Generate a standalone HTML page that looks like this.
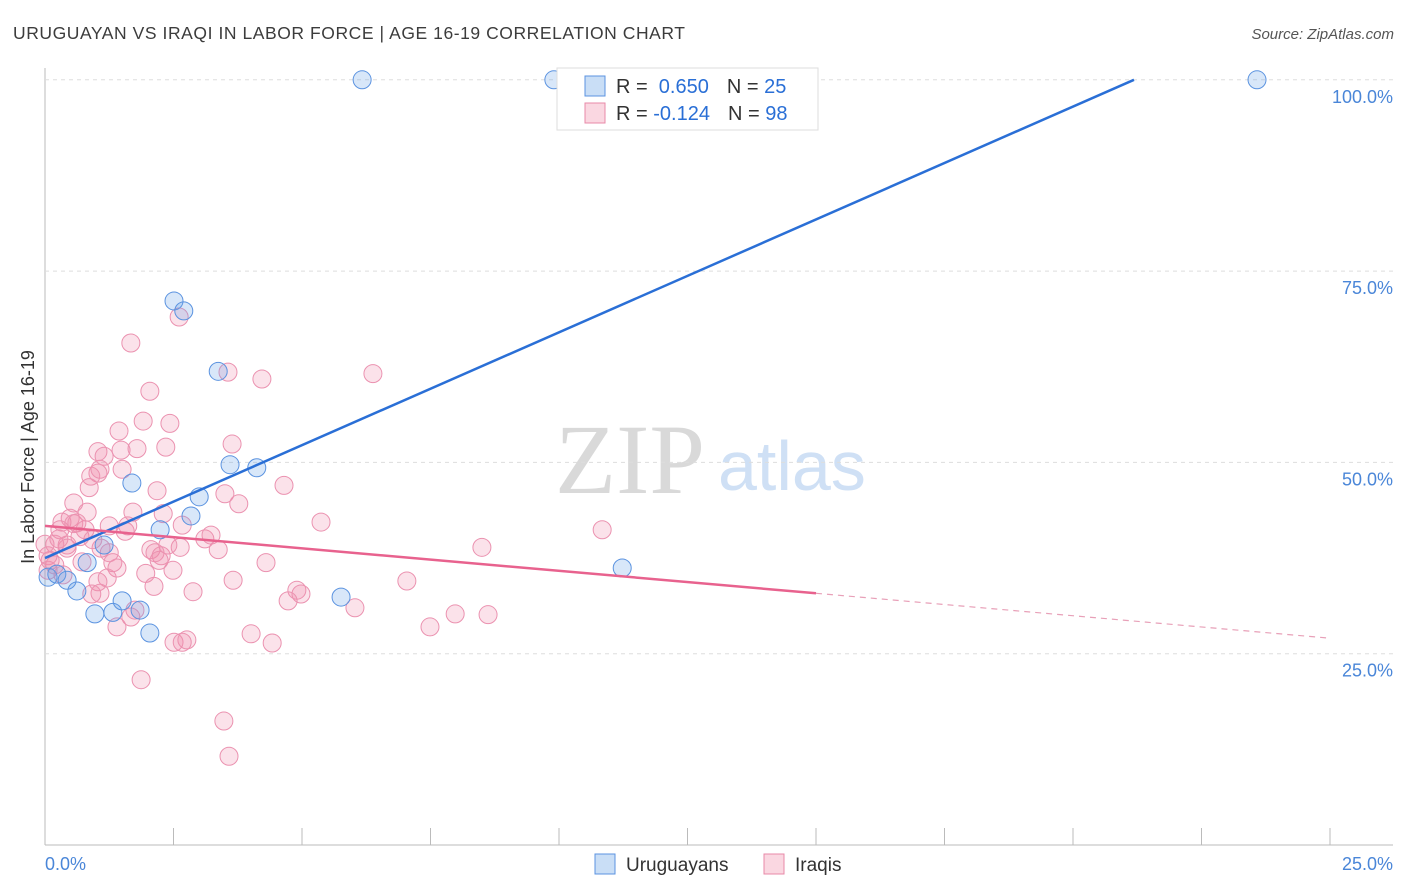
<!DOCTYPE html>
<html><head><meta charset="utf-8">
<style>
body{margin:0;background:#fff;font-family:"Liberation Sans",sans-serif;}
#wrap{position:relative;width:1406px;height:892px;overflow:hidden}
</style></head>
<body>
<div id="wrap">
<svg id="svg" width="1406" height="892" xmlns="http://www.w3.org/2000/svg">
<text x="13" y="39" font-size="17.5" fill="#3c3c3c" textLength="672" lengthAdjust="spacing">URUGUAYAN VS IRAQI IN LABOR FORCE | AGE 16-19 CORRELATION CHART</text>
<text x="1394" y="39" font-size="15" fill="#555" font-style="italic" text-anchor="end">Source: ZipAtlas.com</text>
<text x="555" y="493" font-size="100" fill="#d9d9d9" font-family="Liberation Serif,serif">ZIP</text>
<text x="718" y="490" font-size="70" fill="#cfe0f5">atlas</text>
<g id="grid"></g>
<g id="pts"></g>
<g id="lines"></g>
<text transform="translate(34,457) rotate(-90)" font-size="18" fill="#333" text-anchor="middle">In Labor Force | Age 16-19</text>
<g>
<rect x="557" y="68" width="261" height="62" fill="#fff" stroke="#ddd"/>
<rect x="585" y="76" width="20" height="20" fill="rgba(100,160,230,0.35)" stroke="#5b93e0"/>
<rect x="585" y="103" width="20" height="20" fill="rgba(240,140,170,0.35)" stroke="#e88aa8"/>
<text x="616" y="93" font-size="20" fill="#333">R = <tspan fill="#2a6fd6">&#160;0.650</tspan><tspan dx="18">N = </tspan><tspan fill="#2a6fd6">25</tspan></text>
<text x="616" y="120" font-size="20" fill="#333">R = <tspan fill="#2a6fd6">-0.124</tspan><tspan dx="18">N = </tspan><tspan fill="#2a6fd6">98</tspan></text>
</g>
<g>
<rect x="595" y="854" width="20" height="20" fill="rgba(100,160,230,0.35)" stroke="#5b93e0"/>
<text x="626" y="871" font-size="19" fill="#333">Uruguayans</text>
<rect x="764" y="854" width="20" height="20" fill="rgba(240,140,170,0.35)" stroke="#e88aa8"/>
<text x="795" y="871" font-size="19" fill="#333">Iraqis</text>
</g>
</svg>
</div>
<script>
const yTicks=[25,50,75,100];
const yTickLabels=["25.0%","50.0%","75.0%","100.0%"];
const blueX=[6.17,9.90,23.58,2.51,2.70,3.37,3.60,4.12,1.69,3.00,2.84,2.24,1.15,0.82,11.23,0.06,0.23,0.43,0.62,0.97,1.32,1.50,1.85,2.04,5.76];
const blueY=[100,100,100,71.1,69.8,61.9,49.7,49.3,47.3,45.5,43.0,41.2,39.2,36.9,36.2,35.0,35.4,34.6,33.2,30.2,30.4,31.9,30.7,27.7,32.4];
const pinkX=[1.67,2.04,1.91,2.43,1.44,3.64,1.03,1.15,2.35,1.48,1.79,1.50,1.03,0.89,1.07,0.86,2.18,0.56,3.50,3.77,4.65,0.82,1.71,0.49,0.33,0.29,0.56,0.78,2.30,2.67,1.61,1.56,1.25,3.11,3.23,0.43,0.19,0.06,0.0,0.68,0.43,1.09,1.25,1.32,2.06,2.26,2.63,2.39,2.14,2.49,2.22,1.40,1.21,0.72,0.19,0.06,1.96,3.66,4.30,5.37,8.50,10.84,7.04,4.90,4.98,4.73,6.03,7.49,7.98,8.62,4.01,4.42,2.51,2.76,2.67,1.67,1.40,1.75,1.03,1.07,0.91,1.87,3.48,3.58,3.56,4.22,6.38,2.61,2.12,0.35,0.10,0.27,0.62,0.93,3.37,2.88];
const pinkY=[65.6,59.3,55.4,55.1,54.1,52.4,51.4,50.8,52.0,51.6,51.8,49.1,48.6,48.2,49.1,46.7,46.3,44.7,45.9,44.6,47.0,43.5,43.5,42.7,42.2,41.2,42.0,41.2,43.3,41.8,41.7,41.0,41.7,40.0,40.5,39.2,39.3,37.8,39.3,40.3,38.8,38.8,38.2,36.9,38.6,37.8,38.9,39.2,38.2,35.9,37.2,36.2,34.9,37.0,36.6,35.9,35.5,34.6,36.9,42.2,38.9,41.2,34.5,33.3,32.8,31.9,31.0,28.5,30.2,30.1,27.6,26.4,26.5,26.8,26.5,29.8,28.5,30.7,34.4,32.9,32.8,21.6,16.2,11.6,61.8,60.9,61.6,69.0,33.8,35.3,37.2,40.0,42.1,39.9,38.6,33.1];
const blueTrend=[37.5,2.95];
const pinkTrend=[41.7,-0.587];
const X0=45,XS=51.4,Y0=845,YS=7.652;
const sx=v=>X0+v*XS, sy=v=>Y0-v*YS;
const NS="http://www.w3.org/2000/svg";
function mk(tag,attrs,parent){const e=document.createElementNS(NS,tag);for(const k in attrs)e.setAttribute(k,attrs[k]);parent.appendChild(e);return e;}
const grid=document.getElementById('grid');
let ax=mk('line',{x1:45,y1:68,x2:45,y2:845,stroke:'#bbb'},grid);


let bx=mk('line',{x1:45,y1:845,x2:1393,y2:845,stroke:'#bbb'},grid);


yTicks.forEach((t,i)=>{
  const g=mk('line',{x1:45,y1:sy(t),x2:1393,y2:sy(t),stroke:'#ddd','stroke-dasharray':'4,4'},grid);
  
  
  const l=mk('text',{x:1393,y:sy(t)+23,'font-size':18,fill:'#4a86d8','text-anchor':'end'},grid);
  l.textContent=yTickLabels[i];
  
  
});
for(let i=0;i<=10;i++){
  const t=mk('line',{x1:sx(i*2.5),y1:828,x2:sx(i*2.5),y2:845,stroke:'#bbb'},grid);
  
  
}
const x0l=mk('text',{x:45,y:870,'font-size':18,fill:'#4a86d8'},grid);x0l.textContent="0.0%";


const x1l=mk('text',{x:1393,y:870,'font-size':18,fill:'#4a86d8','text-anchor':'end'},grid);x1l.textContent="25.0%";


const pts=document.getElementById('pts');
pinkX.forEach((x,i)=>{
  const c=mk('circle',{cx:sx(x),cy:sy(pinkY[i]),r:9,fill:'rgba(240,140,170,0.25)',stroke:'#eb92b0','stroke-width':1},pts);
  
  
});
blueX.forEach((x,i)=>{
  const c=mk('circle',{cx:sx(x),cy:sy(blueY[i]),r:9,fill:'rgba(100,160,230,0.25)',stroke:'#5b93e0','stroke-width':1},pts);
  
  
});
const lines=document.getElementById('lines');
const bEnd=(100-blueTrend[0])/blueTrend[1];
const bl=mk('line',{x1:sx(0),y1:sy(blueTrend[0]),x2:sx(bEnd),y2:sy(100),stroke:'#2a6fd6','stroke-width':2.5},lines);


const pl=mk('line',{x1:sx(0),y1:sy(pinkTrend[0]),x2:sx(15),y2:sy(pinkTrend[0]+15*pinkTrend[1]),stroke:'#e8628e','stroke-width':2.5},lines);


const pd=mk('line',{x1:sx(15),y1:sy(pinkTrend[0]+15*pinkTrend[1]),x2:sx(25),y2:sy(pinkTrend[0]+25*pinkTrend[1]),stroke:'#e8a0b8','stroke-width':1.2,'stroke-dasharray':'6,5'},lines);


</script>
</body></html>
